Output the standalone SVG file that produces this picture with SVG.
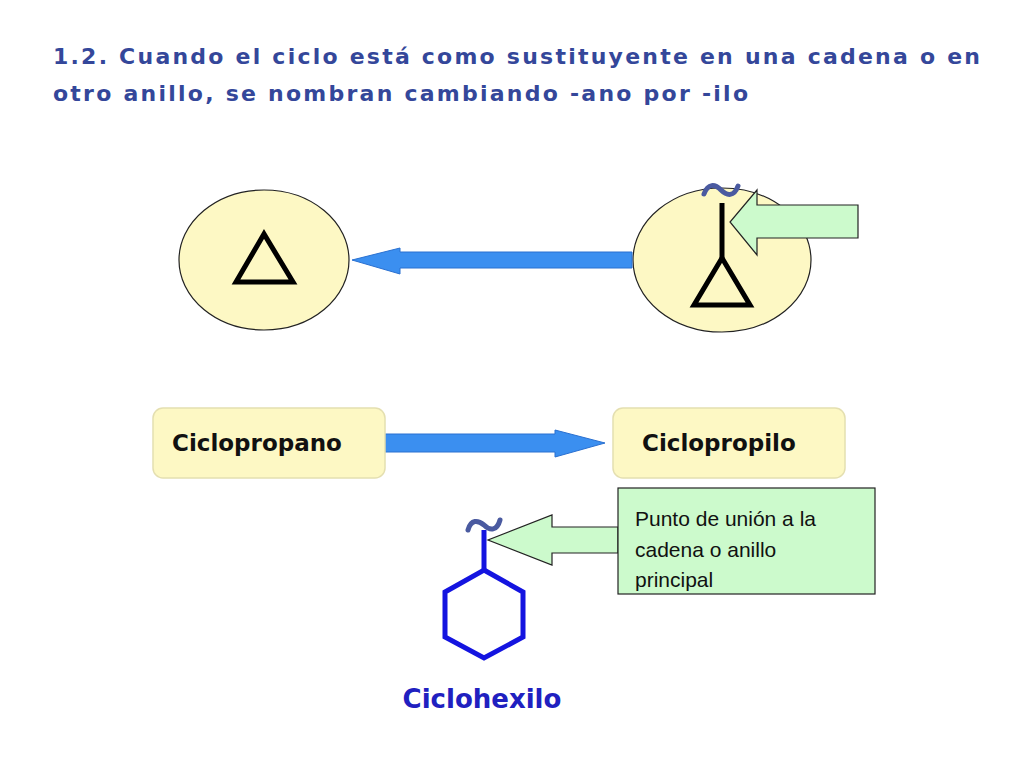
<svg xmlns="http://www.w3.org/2000/svg" width="1024" height="768" viewBox="0 0 1024 768">
<style>
.t{font-family:"DejaVu Sans",sans-serif;font-weight:bold;fill:#34479a;font-size:22px}
.n{font-family:"DejaVu Sans",sans-serif;font-weight:bold;font-size:23px;fill:#111}
.r{fill:#ff1a1a}
.ell{fill:#fdf8c4;stroke:#222;stroke-width:1.2}
.box{fill:#fdf8c4;stroke:#e4dfb0;stroke-width:1.5}
.blue{fill:#3b8ff0;stroke:#2a70d0;stroke-width:1}
.green{fill:#ccfacc;stroke:#222;stroke-width:1.2}
.bk{fill:none;stroke:#000;stroke-width:5;stroke-linejoin:miter}
.bl{fill:none;stroke:#1414e0;stroke-width:5}
.tl{fill:none;stroke:#4a5aa0;stroke-width:5;stroke-linecap:round}
</style>
<rect width="1024" height="768" fill="#fff"/>
<text class="t" x="53" y="64" textLength="927" lengthAdjust="spacing">1.2. Cuando el ciclo está como sustituyente en una cadena o en</text>
<text class="t" x="53" y="101" textLength="695" lengthAdjust="spacing">otro anillo, se nombran cambiando -ano por -ilo</text>
<g id="ciclopropano-mol">
<ellipse class="ell" cx="264" cy="260" rx="85" ry="70"/>
<polygon class="bk" points="236,282 293,282 264,234"/>
</g>
<g id="ciclopropilo-mol">
<ellipse class="ell" cx="722" cy="260" rx="89" ry="72"/>
<line class="bk" x1="722" y1="203" x2="722" y2="258"/>
<polygon class="bk" points="722,258 694,305 750,305"/>
<path class="tl" d="M704,194 C708,183 715,184 721,190 C727,196 734,197 738,186"/>
</g>
<g id="connectors">
<polygon class="blue" points="632,252 400,252 400,248 352,260 400,274 400,268 632,268"/>
<polygon class="green" points="858,205 757,205 757,190 730,222 757,255 757,238 858,238"/>
<polygon class="blue" points="385,434 555,434 555,430 605,443 555,457 555,452 385,452"/>
<polygon class="green" points="618,527 552,527 552,515 488,540 552,565 552,553 618,553"/>
</g>
<g id="box-ciclopropano">
<rect class="box" x="153" y="408" width="232" height="70" rx="10"/>
<text class="n" x="172" y="451">Ciclopropano<tspan class="r" dx="0"></tspan></text>
</g>
<g id="box-ciclopropilo">
<rect class="box" x="613" y="408" width="232" height="70" rx="10"/>
<text class="n" x="642" y="451">Ciclopropilo</text>
</g>
<g id="callout">
<rect class="green" x="618" y="488" width="257" height="106"/>
<text font-family="Liberation Sans,sans-serif" font-size="21" fill="#111"><tspan x="635" y="526">Punto de unión a la</tspan><tspan x="635" y="557">cadena o anillo</tspan><tspan x="635" y="587">principal</tspan></text>
</g>
<g id="ciclohexilo">
<line class="bl" x1="484" y1="530" x2="484" y2="570"/>
<polygon class="bl" points="484,570 523,592 523,637 484,658 445,637 445,592"/>
<path class="tl" d="M468,530 C471,519 478,520 484,525 C490,531 497,531 500,520"/>
<text class="n" x="482" y="708" text-anchor="middle" style="fill:#2020c0;font-size:26px">Ciclohexilo</text>
</g>
</svg>
